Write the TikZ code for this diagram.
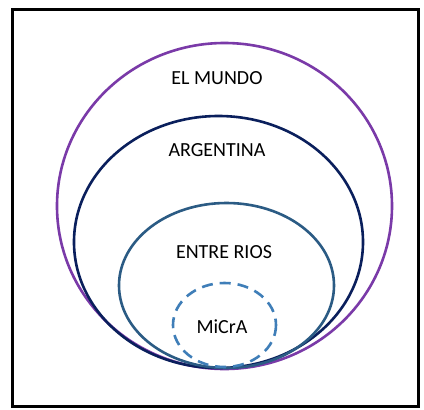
\documentclass[tikz,border=0pt]{standalone}
\usepackage{fontspec}
\setmainfont{Carlito}
\usepackage{xcolor}
\definecolor{mundo}{HTML}{7A3AA8}
\definecolor{argentina}{HTML}{0A1F5C}
\definecolor{entrerios}{HTML}{2B5B84}
\definecolor{micra}{HTML}{3F7EB8}

\begin{document}
\begin{tikzpicture}[x=1pt,y=-1pt]
  \tikzset{
    ring/.style={line width=2.6pt},
    label/.style={font=\fontsize{20}{22}\selectfont, inner sep=0pt}
  }
  % Page and frame
  \useasboundingbox (0,0) rectangle (424,410);
  \fill[white] (0,0) rectangle (424,410);
  \draw[line width=3pt] (12,9) rectangle (418,406);
  % Nested regions
  \draw[ring,mundo] (224.5,206) ellipse [x radius=167.5, y radius=163];
  \draw[ring,argentina] (218.5,242) ellipse [x radius=144.5, y radius=126];
  \draw[ring,entrerios] (226.5,285.5) ellipse [x radius=107.5, y radius=82.5];
  \draw[ring,micra,dash pattern=on 11pt off 7pt] (224.5,325) ellipse [x radius=51.5, y radius=42];
  % Labels
  \node[label] (mundo) at (217,78) {EL MUNDO};
  \node[label] (arg) at (217,150) {ARGENTINA};
  \node[label] (er) at (224,252) {ENTRE RIOS};
  \node[label] (micra) at (222,327) {MiCrA};
\end{tikzpicture}
\end{document}
